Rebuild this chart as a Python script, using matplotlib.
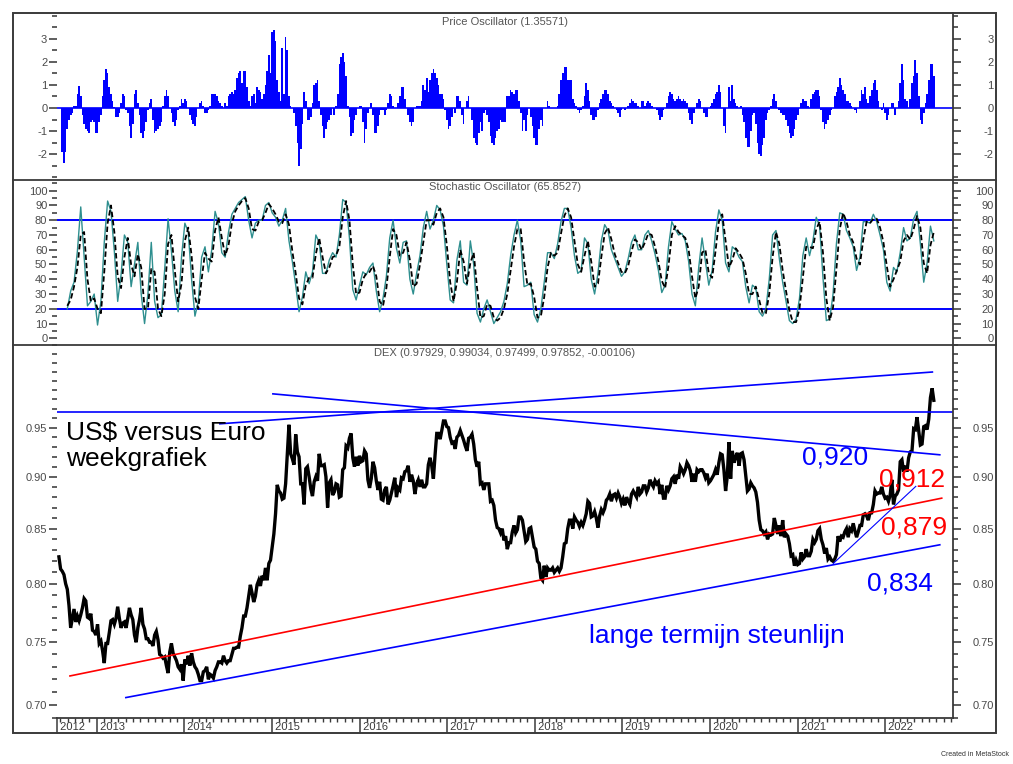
import numpy as np
import pandas as pd
import matplotlib
matplotlib.use('Agg')
import matplotlib.pyplot as plt
import matplotlib.dates as mdates
from matplotlib.lines import Line2D
from matplotlib.patches import Rectangle
from matplotlib.ticker import NullFormatter
from matplotlib.transforms import blended_transform_factory

plt.rcParams['font.family'] = ['Liberation Sans', 'DejaVu Sans']

# ---------------- data ----------------
LAST_WEEK = '2022-07-22'

usd_eur_close = [
    # 2012 (from late July)
    0.824, 0.813, 0.811, 0.808, 0.800, 0.795, 0.781, 0.762, 0.770, 0.778, 0.767, 0.772,
    0.768, 0.773, 0.779, 0.787, 0.785, 0.771, 0.770, 0.774, 0.760, 0.759, 0.756,
    # 2013
    0.765, 0.749, 0.751, 0.743, 0.733, 0.749, 0.749, 0.758, 0.768, 0.769, 0.765, 0.770, 0.780,
    0.770, 0.762, 0.766, 0.767, 0.762, 0.770, 0.779, 0.773, 0.769, 0.756, 0.750, 0.762, 0.769,
    0.779, 0.765, 0.761, 0.753, 0.753, 0.750, 0.750, 0.747, 0.756, 0.759, 0.752, 0.740, 0.739,
    0.737, 0.738, 0.731, 0.725, 0.742, 0.749, 0.741, 0.738, 0.735, 0.730, 0.728, 0.732, 0.719,
    # 2014
    0.736, 0.732, 0.739, 0.731, 0.741, 0.734, 0.730, 0.728, 0.724, 0.719, 0.719, 0.726, 0.727,
    0.730, 0.720, 0.724, 0.723, 0.721, 0.727, 0.730, 0.734, 0.734, 0.733, 0.739, 0.735, 0.733,
    0.735, 0.735, 0.740, 0.745, 0.745, 0.746, 0.746, 0.755, 0.762, 0.772, 0.772, 0.779, 0.789,
    0.799, 0.792, 0.784, 0.789, 0.799, 0.803, 0.798, 0.807, 0.803, 0.814, 0.803, 0.818, 0.821,
    # 2015
    0.833, 0.845, 0.864, 0.892, 0.886, 0.884, 0.878, 0.879, 0.893, 0.923, 0.953, 0.923, 0.918,
    0.912, 0.943, 0.925, 0.920, 0.893, 0.893, 0.873, 0.908, 0.910, 0.900, 0.888, 0.881, 0.895,
    0.900, 0.896, 0.923, 0.911, 0.911, 0.912, 0.900, 0.870, 0.894, 0.897, 0.882, 0.885, 0.893,
    0.892, 0.880, 0.881, 0.907, 0.909, 0.931, 0.929, 0.939, 0.944, 0.919, 0.910, 0.920, 0.911,
    # 2016
    0.921, 0.915, 0.916, 0.926, 0.923, 0.897, 0.889, 0.898, 0.915, 0.909, 0.896, 0.887, 0.895,
    0.878, 0.877, 0.887, 0.890, 0.873, 0.877, 0.884, 0.891, 0.899, 0.880, 0.889, 0.887, 0.899,
    0.898, 0.905, 0.906, 0.911, 0.895, 0.902, 0.896, 0.883, 0.893, 0.897, 0.890, 0.897, 0.890,
    0.890, 0.893, 0.912, 0.919, 0.911, 0.898, 0.922, 0.944, 0.944, 0.938, 0.947, 0.957, 0.957,
    0.951,
    # 2017
    0.950, 0.940, 0.934, 0.935, 0.928, 0.940, 0.942, 0.947, 0.942, 0.937, 0.931, 0.926, 0.939,
    0.940, 0.943, 0.933, 0.917, 0.910, 0.915, 0.893, 0.894, 0.887, 0.893, 0.893, 0.893, 0.876,
    0.877, 0.872, 0.858, 0.851, 0.850, 0.846, 0.850, 0.839, 0.843, 0.831, 0.837, 0.837, 0.847,
    0.853, 0.846, 0.849, 0.861, 0.861, 0.858, 0.848, 0.838, 0.840, 0.850, 0.851, 0.842, 0.833,
    # 2018
    0.831, 0.820, 0.818, 0.805, 0.803, 0.816, 0.806, 0.814, 0.812, 0.812, 0.814, 0.810, 0.812,
    0.814, 0.811, 0.814, 0.824, 0.836, 0.837, 0.850, 0.858, 0.858, 0.850, 0.861, 0.858, 0.856,
    0.852, 0.856, 0.853, 0.858, 0.864, 0.876, 0.874, 0.861, 0.862, 0.866, 0.860, 0.851, 0.862,
    0.868, 0.865, 0.869, 0.877, 0.879, 0.883, 0.876, 0.882, 0.883, 0.879, 0.884, 0.880, 0.874,
    # 2019
    0.878, 0.872, 0.880, 0.876, 0.873, 0.883, 0.886, 0.883, 0.880, 0.890, 0.883, 0.885, 0.891,
    0.891, 0.885, 0.889, 0.897, 0.893, 0.890, 0.896, 0.893, 0.895, 0.883, 0.892, 0.879, 0.879,
    0.891, 0.887, 0.891, 0.898, 0.900, 0.893, 0.902, 0.898, 0.910, 0.907, 0.903, 0.907, 0.914,
    0.911, 0.906, 0.895, 0.903, 0.895, 0.907, 0.905, 0.907, 0.907, 0.904, 0.899, 0.903, 0.894,
    # 2020
    0.896, 0.899, 0.902, 0.907, 0.902, 0.914, 0.923, 0.922, 0.907, 0.886, 0.900, 0.935, 0.898,
    0.926, 0.914, 0.920, 0.924, 0.911, 0.923, 0.924, 0.917, 0.901, 0.886, 0.888, 0.894, 0.891,
    0.889, 0.885, 0.875, 0.858, 0.849, 0.848, 0.845, 0.847, 0.840, 0.845, 0.844, 0.845, 0.860,
    0.853, 0.845, 0.853, 0.843, 0.858, 0.842, 0.845, 0.843, 0.836, 0.825, 0.826, 0.816, 0.821,
    # 2021
    0.817, 0.818, 0.828, 0.822, 0.824, 0.831, 0.825, 0.825, 0.829, 0.840, 0.837, 0.840, 0.848,
    0.850, 0.840, 0.835, 0.827, 0.832, 0.822, 0.824, 0.821, 0.820, 0.822, 0.826, 0.843, 0.838,
    0.843, 0.842, 0.847, 0.850, 0.842, 0.850, 0.848, 0.855, 0.848, 0.842, 0.847, 0.853, 0.853,
    0.863, 0.864, 0.862, 0.858, 0.865, 0.865, 0.873, 0.886, 0.883, 0.884, 0.884, 0.890, 0.883,
    0.879,
    # 2022
    0.880, 0.876, 0.882, 0.897, 0.873, 0.881, 0.883, 0.887, 0.915, 0.917, 0.905, 0.911, 0.905,
    0.919, 0.925, 0.926, 0.949, 0.948, 0.961, 0.947, 0.932, 0.933, 0.951, 0.952, 0.948, 0.959,
    0.982, 0.992, 0.979,
]

price_osc = [
    -1.9, -2.4, -1.9, -0.9, -0.5, -0.3, -0.2, 0.1, 0.1, 0.6,
    0.95, 0.5, -0.3, -0.7, -0.9, -1.0, -1.1, -0.6, -0.5, -0.6,
    -1.1, -1.1, -0.6, -0.3, 0.5, 1.2, 1.7, 1.5, 0.9, 0.6,
    0.3, 0.05, -0.4, -0.4, -0.2, 0.2, 0.6, 0.5, -0.1, -0.2,
    -0.8, -1.3, -0.7, 0.6, 0.8, 0.2, -0.3, -1.1, -1.3, -1.0,
    -0.6, -0.1, 0.2, 0.4, -0.5, -1.1, -1.0, -0.9, -0.8, -0.6,
    0.1, 0.5, 0.8, 0.5, 0.0, -0.2, -0.6, -0.8, -0.5, -0.1,
    0.1, 0.4, 0.2, 0.4, 0.3, 0.0, -0.3, -0.5, -0.7, -0.8,
    -0.4, 0.0, 0.2, 0.3, 0.1, -0.2, -0.2, -0.1, 0.1, 0.6,
    0.6, 0.6, 0.5, 0.3, 0.2, 0.1, 0.0, 0.2, 0.1, 0.5,
    0.6, 0.7, 0.6, 0.8, 1.3, 1.5, 1.6, 1.1, 1.6, 1.6,
    0.9, 0.3, 0.1, 0.5, 0.6, 0.2, 0.9, 0.8, 0.7, 0.4,
    0.6, 1.0, 1.6, 2.3, 1.5, 3.3, 3.4, 2.9, 1.2, 0.7,
    0.3, 2.6, 0.6, 3.1, 2.5, 0.5, 0.1, 0.0, -0.2, -0.8,
    -1.5, -2.5, -1.8, -0.7, 0.7, 0.3, -0.5, -0.5, -0.4, 0.2,
    1.0, 1.1, 1.2, 0.3, -0.3, -0.8, -1.3, -0.9, -0.6, -0.5,
    -0.3, 0.0, -0.3, 0.1, 0.6, 1.9, 2.2, 2.4, 2.0, 1.4,
    0.1, -0.4, -1.2, -1.1, -0.5, -0.3, 0.0, 0.1, 0.1, -0.6,
    -1.5, -0.9, -0.2, 0.0, 0.2, -0.3, -1.1, -1.1, -0.8, -0.3,
    -0.1, -0.1, -0.3, -0.1, 0.2, 0.6, 0.5, 0.1, 0.0, 0.0,
    0.2, 0.5, 0.9, 0.9, 0.4, 0.0, -0.3, -0.6, -0.8, -0.6,
    0.0, 0.1, 0.1, 0.1, 0.3, 1.0, 0.8, 1.3, 0.7, 1.2,
    1.5, 1.7, 1.5, 1.3, 1.0, 0.6, 0.6, 0.4, -0.1, -0.5,
    -0.9, -0.8, -0.4, 0.0, -0.2, 0.5, 0.5, 0.3, -0.3, -0.7,
    0.0, 0.3, 0.5, 0.0, -0.5, -1.3, -1.5, -1.6, -1.1, -0.6,
    -1.0, -0.2, -0.1, -0.3, -0.6, -1.2, -1.5, -1.6, -1.3, -1.0,
    -0.9, -0.5, -0.6, -0.6, -0.6, 0.5, 0.5, 0.8, 0.7, 0.6,
    0.8, 0.8, 0.3, -0.2, -1.0, -0.5, -1.0, -0.3, 0.0, -0.4,
    -0.8, -1.3, -1.6, -1.6, -0.9, -0.5, -0.8, 0.0, 0.0, 0.3,
    0.1, 0.0, 0.0, 0.0, 0.0, 0.1, 0.6, 1.2, 1.5, 1.8,
    1.8, 1.2, 1.2, 1.2, 0.4, 0.2, 0.1, -0.1, -0.2, -0.1,
    0.1, 0.5, 1.1, 0.8, 0.3, -0.3, -0.5, -0.5, -0.4, -0.1,
    0.2, 0.4, 0.6, 0.8, 0.8, 0.6, 0.3, 0.2, 0.1, 0.0,
    -0.1, -0.2, -0.4, -0.1, 0.0, -0.1, 0.0, 0.1, 0.2, 0.4,
    0.3, 0.2, 0.2, 0.1, 0.0, 0.3, 0.3, 0.1, 0.2, 0.3,
    0.2, 0.1, 0.0, 0.0, -0.1, -0.3, -0.5, -0.4, -0.1, 0.0,
    0.2, 0.5, 0.7, 0.6, 0.4, 0.3, 0.4, 0.5, 0.4, 0.3,
    0.4, 0.3, 0.2, -0.2, -0.5, -0.7, -0.2, 0.0, 0.2, 0.4,
    0.3, 0.0, -0.2, -0.4, -0.4, 0.0, 0.1, 0.2, 0.4, 0.6,
    0.7, 1.0, 0.7, 0.0, -0.8, -1.1, 0.0, 0.9, 0.3, 1.0,
    0.4, 0.2, 0.1, 0.0, 0.1, -0.3, -0.6, -1.3, -1.7, -1.7,
    -1.0, -0.3, -0.2, -0.7, -1.5, -2.0, -2.1, -1.6, -1.3, -0.5,
    -0.2, -0.1, 0.1, 0.4, 0.6, 0.3, 0.0, -0.1, -0.2, -0.3,
    -0.3, -0.5, -0.8, -1.1, -1.3, -1.2, -0.9, -0.5, -0.3, 0.0,
    0.2, 0.4, 0.3, 0.3, 0.1, 0.0, 0.4, 0.6, 0.7, 0.8,
    0.8, 0.5, -0.1, -0.6, -0.9, -0.7, -0.5, -0.3, -0.1, 0.0,
    0.5, 0.7, 0.9, 1.3, 1.0, 0.8, 0.6, 0.3, 0.3, 0.2,
    0.1, 0.0, -0.1, -0.2, 0.0, 0.3, 0.8, 0.6, 0.9, 0.4,
    0.2, 0.5, 0.8, 1.1, 1.2, 0.8, 0.3, 0.0, -0.1, 0.2,
    -0.2, -0.5, -0.3, 0.0, 0.2, 0.2, -0.3, 0.0, 0.3, 1.1,
    1.9, 1.2, 0.4, 0.3, 0.0, 0.4, 1.1, 1.4, 2.1, 1.5,
    0.5, -0.5, -0.7, -0.2, 0.2, 0.6, 1.2, 1.9, 1.9, 1.4,
]

stoch_k = [
    20, 32, 38, 59, 89, 55, 22, 25, 30, 9,
    25, 65, 93, 86, 59, 25, 43, 70, 65, 35,
    50, 65, 30, 10, 30, 65, 25, 14, 16, 47,
    81, 59, 32, 18, 55, 78, 72, 40, 15, 25,
    55, 62, 45, 60, 86, 78, 58, 55, 72, 84,
    88, 92, 94, 96, 80, 68, 78, 80, 80, 90,
    92, 85, 82, 76, 80, 88, 66, 52, 36, 18,
    28, 45, 37, 45, 70, 65, 44, 44, 53, 58,
    55, 70, 94, 92, 68, 33, 26, 36, 45, 43,
    48, 51, 32, 18, 27, 42, 68, 80, 61, 51,
    65, 66, 40, 30, 44, 56, 75, 86, 74, 80,
    90, 87, 76, 50, 26, 24, 53, 66, 38, 36,
    66, 50, 17, 11, 20, 26, 18, 10, 14,
    18, 25, 37, 56, 70, 80, 66, 35, 36, 38,
    16, 11, 20, 38, 58, 58, 54, 64, 79, 88,
    88, 75, 56, 44, 46, 68, 64, 40, 30, 44,
    66, 77, 73, 60, 54, 48, 42, 45, 54, 65,
    70, 60, 60, 70, 73, 66, 57, 46, 31, 36,
    62, 79, 74, 70, 71, 66, 52, 30, 22, 48,
    68, 52, 36, 46, 72, 87, 80, 51, 45, 62,
    60, 55, 52, 35, 24, 36, 34, 18, 15, 20,
    40, 70, 73, 54, 38, 25, 12, 10, 13, 27,
    56, 68, 56, 66, 82, 76, 41, 12, 13, 30,
    64, 85, 84, 73, 68, 62, 46, 55, 79, 79,
    78, 84, 79, 70, 60, 38, 32, 48, 45, 58,
    75, 66, 68, 81, 86, 64, 38, 51, 76, 66,
]

stoch_d = [
    22, 26, 35, 48, 70, 72, 40, 25, 27, 20,
    17, 45, 78, 90, 72, 42, 34, 55, 68, 50,
    42, 57, 48, 20, 20, 47, 45, 20, 15, 30,
    64, 70, 46, 25, 37, 66, 75, 56, 28, 20,
    40, 58, 54, 52, 73, 82, 68, 56, 63, 78,
    86, 90, 93, 95, 88, 74, 73, 79, 80, 85,
    91, 88, 84, 79, 78, 84, 77, 59, 44, 27,
    23, 36, 41, 41, 57, 68, 55, 44, 48, 55,
    56, 62, 82, 93, 80, 50, 30, 31, 40, 44,
    45, 49, 42, 25, 22, 34, 55, 74, 70, 56,
    58, 65, 53, 35, 37, 50, 65, 80, 80, 77,
    85, 88, 82, 63, 38, 25, 38, 60, 52, 37,
    51, 58, 34, 14, 15, 23, 22, 14, 12,
    14, 20, 30, 46, 62, 74, 74, 52, 36, 37,
    28, 14, 15, 28, 48, 58, 56, 58, 71, 83,
    88, 82, 66, 50, 45, 56, 66, 52, 35, 37,
    55, 71, 75, 67, 57, 51, 45, 44, 49, 59,
    67, 65, 60, 65, 71, 70, 62, 52, 39, 34,
    49, 70, 76, 72, 70, 68, 60, 42, 27, 35,
    58, 60, 44, 41, 59, 79, 84, 66, 48, 53,
    61, 58, 54, 44, 30, 30, 35, 26, 17, 17,
    30, 55, 72, 64, 46, 32, 19, 11, 11, 20,
    41, 62, 62, 61, 74, 79, 58, 27, 12, 21,
    47, 74, 85, 79, 70, 65, 54, 50, 67, 79,
    78, 81, 81, 75, 65, 49, 35, 40, 46, 52,
    66, 70, 67, 74, 83, 75, 51, 44, 63, 72,
]

stoch_levels = [20, 80]

po_title = 'Price Oscillator (1.35571)'
st_title = 'Stochastic Oscillator (65.8527)'
dex_title = 'DEX (0.97929, 0.99034, 0.97499, 0.97852, -0.00106)'

resistance_level = 0.966
trend_down_dates, trend_down_vals = ['2015-01-05', '2022-08-16'], [0.986, 0.922]
trend_top_dates, trend_top_vals = ['2014-05-29', '2022-07-16'], [0.954, 1.010]
trend_red_dates, trend_red_vals = ['2012-09-11', '2022-08-24'], [0.7227, 0.879]
trend_sup_dates, trend_sup_vals = ['2013-05-02', '2022-08-16'], [0.7057, 0.835]
trend_short_dates, trend_short_vals = ['2021-05-29', '2022-05-08'], [0.818, 0.8905]

years = ['2012', '2013', '2014', '2015', '2016', '2017', '2018', '2019', '2020', '2021', '2022']

X_START, X_END = pd.Timestamp('2012-07-19'), pd.Timestamp('2022-10-10')

price_dates = pd.date_range(end=LAST_WEEK, periods=len(usd_eur_close), freq='W-FRI')
osc_dates = pd.date_range(end=LAST_WEEK, periods=len(price_osc), freq='W-FRI')
stoch_dates = pd.date_range(end=LAST_WEEK, periods=len(stoch_k), freq='14D')

# ---------------- figure ----------------
W, H = 1013, 764
fig = plt.figure(figsize=(W / 100, H / 100), dpi=100)
fig.patch.set_facecolor('white')

LEFT, RIGHT = 57, 953
TXT = '#4a4a4a'
FRAME = '#3a3a3a'


def rect(top, bottom):
    return [LEFT / W, 1 - bottom / H, (RIGHT - LEFT) / W, (bottom - top) / H]


def fx(px):
    return px / W


def fy(py):
    return 1 - py / H


def setup(ax, ylim, majors, minors, labels, log=False):
    if log:
        ax.set_yscale('log')
    ax.set_ylim(*ylim)
    ax.set_xlim(X_START, X_END)
    for s in ['left', 'top', 'bottom']:
        ax.spines[s].set_visible(False)
    ax.spines['right'].set_color(FRAME)
    ax.spines['right'].set_linewidth(1.3)
    ax.set_yticks(majors)
    ax.set_yticklabels(labels)
    ax.set_yticks(minors, minor=True)
    ax.yaxis.set_minor_formatter(NullFormatter())
    ax.tick_params(axis='y', which='both', direction='out', left=True, right=False,
                   labelleft=True, labelright=False, color='#333333', width=1.1)
    ax.tick_params(axis='y', which='major', length=5.8, pad=1.2, labelsize=8, labelcolor=TXT)
    ax.tick_params(axis='y', which='minor', length=3.4)
    ax.set_xticks([])
    # right side labels
    axr = ax.twinx()
    if log:
        axr.set_yscale('log')
    axr.set_ylim(*ylim)
    for s in axr.spines.values():
        s.set_visible(False)
    axr.set_yticks(majors)
    axr.set_yticklabels(labels)
    axr.set_yticks(minors, minor=True)
    axr.yaxis.set_minor_formatter(NullFormatter())
    axr.tick_params(axis='y', which='both', direction='out', left=False, right=True,
                    labelleft=False, labelright=True, color='#333333', width=1.1)
    axr.tick_params(axis='y', which='major', length=5.8, pad=23.5, labelsize=8, labelcolor=TXT)
    axr.tick_params(axis='y', which='minor', length=3.4)
    for t in axr.yaxis.get_major_ticks():
        t.label2.set_horizontalalignment('right')
    axr.set_xticks([])
    return axr


# ---- Price oscillator ----
ax1 = fig.add_axes(rect(13, 180))
po_major = [-2, -1, 0, 1, 2, 3]
setup(ax1, (-3.13, 4.13), po_major, list(np.arange(-3, 4.01, 0.5)),
      [str(v) for v in po_major])
ax1.bar(osc_dates, price_osc, width=7, color='#0000ff', linewidth=0, align='center')
ax1.axhline(0, color='#0000ff', lw=1.2)
ax1.text(0.5, 0.945, po_title, transform=ax1.transAxes, ha='center', va='center',
         fontsize=8, color='#555555')

# ---- Stochastic ----
ax2 = fig.add_axes(rect(180, 345))
st_major = list(range(0, 101, 10))
setup(ax2, (-4.54, 107.25), st_major, list(range(5, 106, 10)), [str(v) for v in st_major])
for lv in stoch_levels:
    ax2.axhline(lv, color='#0000ff', lw=1.4)
ax2.plot(stoch_dates, stoch_k, color='#2e8f8f', lw=1.0)
ax2.plot(stoch_dates, stoch_d, color='black', lw=1.3, ls=(0, (3, 1.6)))
ax2.text(0.5, 0.958, st_title, transform=ax2.transAxes, ha='center', va='center',
         fontsize=8, color='#555555')

# ---- Main DEX chart ----
ax3 = fig.add_axes(rect(345, 718))
mn_major = [0.70, 0.75, 0.80, 0.85, 0.90, 0.95]
mn_minor = [v / 100 for v in range(69, 105)]
setup(ax3, (0.6906, 1.0405), mn_major, mn_minor, ['%.2f' % v for v in mn_major], log=True)
ax3.spines['bottom'].set_visible(True)
ax3.spines['bottom'].set_color(FRAME)
ax3.spines['bottom'].set_linewidth(1.3)
ax3.xaxis.set_major_locator(mdates.YearLocator())
ax3.xaxis.set_minor_locator(mdates.MonthLocator())
ax3.xaxis.set_major_formatter(NullFormatter())
ax3.xaxis.set_minor_formatter(NullFormatter())
ax3.tick_params(axis='x', which='major', direction='out', length=10.8, width=1.1,
                color=FRAME, labelbottom=False, bottom=True)
ax3.tick_params(axis='x', which='minor', direction='out', length=2.8, width=1.0,
                color=FRAME, bottom=True)
ax3.set_xlim(X_START, X_END)

ax3.plot(price_dates, usd_eur_close, color='black', lw=2.4, solid_joinstyle='miter')

ax3.axhline(resistance_level, color='#0000ff', lw=1.2)
for d, v, c, lw in [(trend_down_dates, trend_down_vals, '#0000ff', 1.2),
                    (trend_top_dates, trend_top_vals, '#0000ff', 1.2),
                    (trend_red_dates, trend_red_vals, '#ff0000', 1.2),
                    (trend_sup_dates, trend_sup_vals, '#0000ff', 1.2),
                    (trend_short_dates, trend_short_vals, '#0000ff', 0.8)]:
    ax3.plot(pd.to_datetime(d), v, color=c, lw=lw)

ax3.text(0.5, 0.9786, dex_title, transform=ax3.transAxes, ha='center', va='center',
         fontsize=8, color='#555555')

# year labels and dividers on the date axis
bt = blended_transform_factory(ax3.transData, ax3.transAxes)
strip = (733 - 718) / (718 - 345)
for y in years:
    pos = X_START if y == years[0] else pd.Timestamp(y + '-01-01')
    ax3.text(pos, -strip / 2 - 0.003, ' ' + y, transform=bt,
             ha='left', va='center', fontsize=8, color='#3a3a3a', clip_on=False)
ax3.add_line(Line2D([0, 0], [0, -strip], transform=ax3.transAxes, color=FRAME, lw=1.1,
                    clip_on=False))

# annotation texts
big = 19
fig.text(fx(66), fy(440), 'US$ versus Euro', fontsize=big, color='black', va='baseline')
fig.text(fx(66), fy(466), 'weekgrafiek', fontsize=big, color='black', va='baseline')
fig.text(fx(802), fy(464), '0,920', fontsize=big, color='#0000ff', va='baseline')
fig.text(fx(879), fy(487), '0,912', fontsize=big, color='#ff0000', va='baseline')
fig.text(fx(881), fy(534), '0,879', fontsize=big, color='#ff0000', va='baseline')
fig.text(fx(867), fy(591), '0,834', fontsize=big, color='#0000ff', va='baseline')
fig.text(fx(589), fy(643), 'lange termijn steunlijn', fontsize=big, color='#0000ff',
         va='baseline')

fig.text(fx(1009), fy(754), 'Created in MetaStock', fontsize=5, color='#333333',
         ha='right', va='center')

# outer frame and panel separators
fig.add_artist(Rectangle((fx(13), fy(733)), (996 - 13) / W, (733 - 13) / H,
                         transform=fig.transFigure, fill=False, lw=1.4, ec=FRAME))
for yy in (180, 345):
    fig.add_artist(Line2D([fx(13), fx(996)], [fy(yy), fy(yy)], transform=fig.transFigure,
                          color=FRAME, lw=1.3))

fig.savefig('out.png', dpi=100, facecolor='white')
